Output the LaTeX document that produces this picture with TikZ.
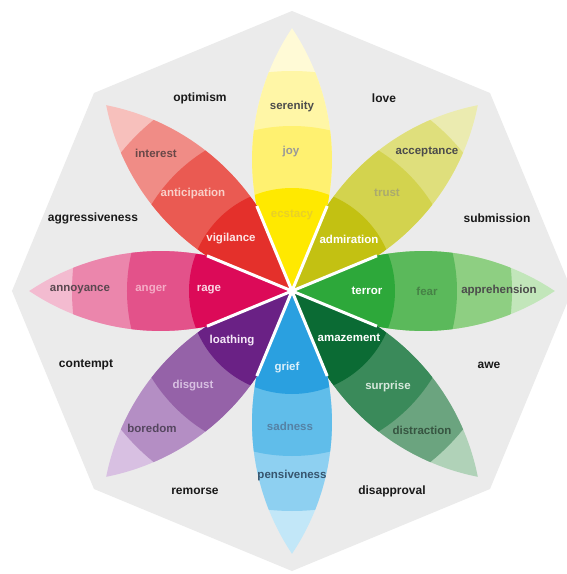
\documentclass[tikz,border=0pt]{standalone}
\usepackage{fontspec}
\setmainfont{Liberation Sans}
\definecolor{octbg}{HTML}{EBEBEB}
% yellow
\definecolor{ya}{HTML}{FFE900}\definecolor{yb}{HTML}{FFF170}\definecolor{yc}{HTML}{FFF6A6}\definecolor{yd}{HTML}{FFFAD6}
% olive
\definecolor{oa}{HTML}{C3C112}\definecolor{ob}{HTML}{D3D34E}\definecolor{oc}{HTML}{DFDF7C}\definecolor{od}{HTML}{EBEBB0}
% green
\definecolor{ga}{HTML}{2DA83A}\definecolor{gb}{HTML}{5BB95B}\definecolor{gc}{HTML}{8ECF82}\definecolor{gd}{HTML}{C2E6BA}
% dark green
\definecolor{da}{HTML}{0B6B34}\definecolor{db}{HTML}{3A8A5A}\definecolor{dc}{HTML}{6BA47F}\definecolor{dd}{HTML}{B0D2B8}
% blue
\definecolor{ba}{HTML}{2AA0E0}\definecolor{bb}{HTML}{60BDEA}\definecolor{bc}{HTML}{8ED0F1}\definecolor{bd}{HTML}{C2E7F8}
% purple
\definecolor{pa}{HTML}{6A2185}\definecolor{pb}{HTML}{9562A8}\definecolor{pc}{HTML}{B48EC4}\definecolor{pd}{HTML}{D8C0E2}
% pink
\definecolor{ra}{HTML}{DC0A58}\definecolor{rb}{HTML}{E3528A}\definecolor{rc}{HTML}{EB86AC}\definecolor{rd}{HTML}{F3BBD0}
% orange-red
\definecolor{ea}{HTML}{E4302B}\definecolor{eb}{HTML}{EA5A52}\definecolor{ec}{HTML}{F08C86}\definecolor{ed}{HTML}{F7C0BC}
\tikzset{
  lbl/.style={font=\bfseries\fontsize{11.5}{13}\selectfont, inner sep=0pt},
  outer/.style={font=\bfseries\fontsize{12}{14}\selectfont, inner sep=0pt, text=black!90},
}
\newcommand{\petal}[5]{%
  \begin{scope}[rotate=#1]
    \clip (0,0) arc[start angle=123.8, end angle=56.2, radius=236.2pt]
          arc[start angle=-56.2, end angle=-123.8, radius=236.2pt] -- cycle;
    \clip (0,0) -- (22.5:300) -- (0:320) -- (-22.5:300) -- cycle;
    \fill[#5] (0,0) circle[radius=270pt];
    \fill[#4] (0,0) circle[radius=220pt];
    \fill[#3] (0,0) circle[radius=165pt];
    \fill[#2] (0,0) circle[radius=103pt];
  \end{scope}}
\begin{document}
\begin{tikzpicture}[x=1pt,y=1pt]
\useasboundingbox (-292,-283) rectangle (274,291);
\fill[white] (-292,-283) rectangle (274,291);
\fill[octbg] (0:280) -- (45:280) -- (90:280) -- (135:280) -- (180:280) -- (225:280) -- (270:280) -- (315:280) -- cycle;
\petal{90}{ya}{yb}{yc}{yd}
\petal{45}{oa}{ob}{oc}{od}
\petal{0}{ga}{gb}{gc}{gd}
\petal{-45}{da}{db}{dc}{dd}
\petal{-90}{ba}{bb}{bc}{bd}
\petal{-135}{pa}{pb}{pc}{pd}
\petal{180}{ra}{rb}{rc}{rd}
\petal{135}{ea}{eb}{ec}{ed}
\foreach \a in {22.5,67.5,...,337.5} \draw[white, line width=3pt] (0,0) -- (\a:92);
\fill[white] (0,0) circle[radius=4pt];
% yellow
\node[lbl, text=black!70] (serenity) at (0,184) {serenity};
\node[lbl, text=black!40] (joy) at (-1,139) {joy};
\node[lbl, text={rgb,255:red,232;green,208;blue,40}] (ecstacy) at (0,76) {ecstacy};
% olive
\node[lbl, text=black!70] (acceptance) at (135,139) {acceptance};
\node[lbl, text={rgb,255:red,170;green,170;blue,110}] (trust) at (95,98) {trust};
\node[lbl, text=white] (admiration) at (57,52) {admiration};
% green
\node[lbl, text=white] (terror) at (75,0) {terror};
\node[lbl, text={rgb,255:red,70;green,130;blue,70}] (fear) at (135,0) {fear};
\node[lbl, text=black!70] (apprehension) at (207,0) {apprehension};
% dark green
\node[lbl, text=white] (amazement) at (57,-47) {amazement};
\node[lbl, text={rgb,255:red,215;green,232;blue,220}] (surprise) at (96,-96) {surprise};
\node[lbl, text={rgb,255:red,55;green,85;blue,65}] (distraction) at (130,-139) {distraction};
% blue
\node[lbl, text={rgb,255:red,220;green,240;blue,250}] (grief) at (-5,-77) {grief};
\node[lbl, text={rgb,255:red,85;green,130;blue,165}] (sadness) at (-2,-135) {sadness};
\node[lbl, text={rgb,255:red,55;green,85;blue,110}] (pensiveness) at (0,-185) {pensiveness};
% purple
\node[lbl, text={rgb,255:red,245;green,232;blue,248}] (loathing) at (-60,-50) {loathing};
\node[lbl, text={rgb,255:red,216;green,192;blue,226}] (disgust) at (-99,-95) {disgust};
\node[lbl, text={rgb,255:red,85;green,70;blue,95}] (boredom) at (-140,-137) {boredom};
% pink
\node[lbl, text={rgb,255:red,250;green,215;blue,228}] (rage) at (-83,1) {rage};
\node[lbl, text={rgb,255:red,245;green,172;blue,198}] (anger) at (-141,1) {anger};
\node[lbl, text={rgb,255:red,90;green,72;blue,80}] (annoyance) at (-212,1) {annoyance};
% red
\node[lbl, text={rgb,255:red,253;green,228;blue,228}] (vigilance) at (-61,52) {vigilance};
\node[lbl, text={rgb,255:red,249;green,207;blue,200}] (anticipation) at (-99,97) {anticipation};
\node[lbl, text={rgb,255:red,105;green,72;blue,72}] (interest) at (-136,138) {interest};
% dyads
\node[outer] (optimism) at (-92,193) {optimism};
\node[outer] (love) at (92,193) {love};
\node[outer] (submission) at (205,73) {submission};
\node[outer] (awe) at (197,-74) {awe};
\node[outer] (disapproval) at (100,-200) {disapproval};
\node[outer] (remorse) at (-97,-200) {remorse};
\node[outer] (contempt) at (-206,-74) {contempt};
\node[outer] (aggressiveness) at (-199,73) {aggressiveness};
\end{tikzpicture}
\end{document}
